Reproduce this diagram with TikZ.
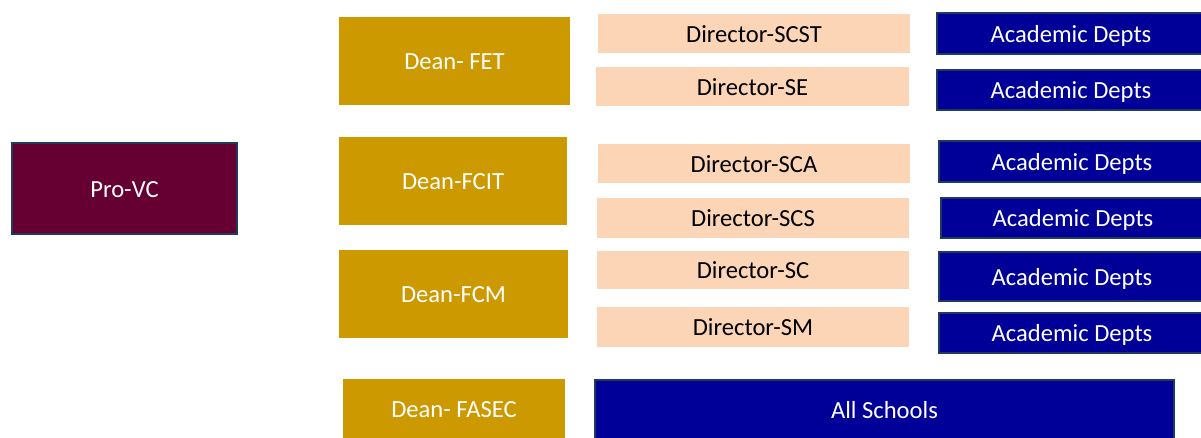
\documentclass[tikz,border=0pt]{standalone}
\usepackage{fontspec}
\setmainfont{Carlito}
\definecolor{provcred}{HTML}{660033}
\definecolor{deangold}{HTML}{CC9900}
\definecolor{dirpeach}{HTML}{FBD5B5}
\definecolor{deptblue}{HTML}{000099}
\definecolor{edgenavy}{HTML}{1F3A5A}
\tikzset{
	unit/.style={inner sep=0pt, text height=10pt, text depth=0pt, font=\fontsize{14}{16}\selectfont},
	provc/.style={unit, fill=provcred, draw=edgenavy, line width=1.2pt, text=white},
	dean/.style={unit, fill=deangold, text=white},
	director/.style={unit, fill=dirpeach, text=black},
	dept/.style={unit, fill=deptblue, draw=edgenavy, line width=1.2pt, text=white}
}
\begin{document}
\begin{tikzpicture}[x=0.02cm, y=-0.02cm]
	\useasboundingbox (0,0) rectangle (1201,437);

		% Pro-VC on the left
		\node[provc, minimum width=4.5cm, minimum height=1.82cm] (provc) at (124.5,188.5) {Pro-VC};

		% Deans
		\foreach \name/\txt/\xa/\xb/\ya/\yb in {
				fet/Dean- FET/339/570/17/105,
				fcit/Dean-FCIT/339/567/137/225,
				fcm/Dean-FCM/339/568/250/338,
				fasec/Dean- FASEC/343/565/379/439
			} {
				\node[dean, minimum width={(\xb-\xa)*0.02cm}, minimum height={(\yb-\ya)*0.02cm}]
					(\name) at ({(\xa+\xb)/2},{(\ya+\yb)/2}) {\txt};
			}

		% Directors of schools
		\foreach \name/\txt/\xa/\xb/\ya/\yb in {
				scst/Director-SCST/598/910/14/53,
				se/Director-SE/596/909/67/106,
				sca/Director-SCA/598/910/144/183,
				scs/Director-SCS/597/909/198/238,
				sc/Director-SC/597/909/251/289,
				sm/Director-SM/597/909/307/347
			} {
				\node[director, minimum width={(\xb-\xa)*0.02cm}, minimum height={(\yb-\ya)*0.02cm}]
					(\name) at ({(\xa+\xb)/2},{(\ya+\yb)/2}) {\txt};
			}

		% Academic departments
		\foreach \name/\xa/\ya/\yb in {
				dept1/937/13/54,
				dept2/937/70/110,
				dept3/939/141/182,
				dept4/941/198/238,
				dept5/939/252/301,
				dept6/939/313/353
			} {
				\node[dept, minimum width={(1205-\xa)*0.02cm}, minimum height={(\yb-\ya)*0.02cm}]
					(\name) at ({(\xa+1205)/2},{(\ya+\yb)/2}) {Academic Depts};
			}

		\node[dept, minimum width=11.58cm, minimum height=1.2cm] (allschools) at (884.5,410) {All Schools};

	\end{tikzpicture}
\end{document}
